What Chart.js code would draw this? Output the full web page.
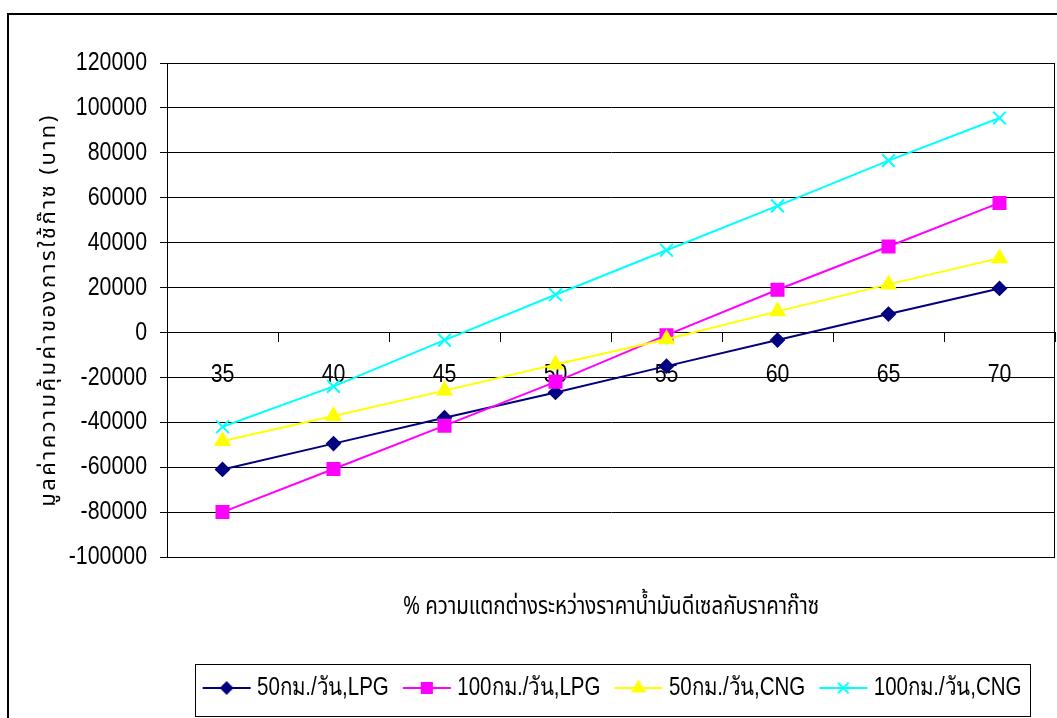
<!DOCTYPE html>
<html>
<head>
<meta charset="utf-8">
<script src="https://cdn.jsdelivr.net/npm/chart.js@4.4.1/dist/chart.umd.min.js"></script>
<style>
  html, body { margin: 0; padding: 0; background: #fff; }
  #wrap { position: relative; width: 1057px; height: 718px; }
  canvas { display: block; }
</style>
</head>
<body>
<div id="wrap"><canvas id="c" width="1057" height="718"></canvas></div>
<script>
// % price gap between diesel and gas (category axis)
const categories = ['35', '40', '45', '50', '55', '60', '65', '70'];

// Value of switching to gas (baht) per scenario
const lpg50  = [-61000, -49500, -38000, -26700, -15000, -3400, 8200, 19600];
const lpg100 = [-80000, -60800, -41500, -22000, -1200, 19000, 38300, 57700];
const cng50  = [-48300, -37200, -25900, -14300, -3000, 9400, 21400, 33100];
const cng100 = [-42000, -24000, -3400, 16800, 36600, 56400, 76500, 95500];

const seriesNames = ['50กม./วัน,LPG', '100กม./วัน,LPG', '50กม./วัน,CNG', '100กม./วัน,CNG'];
const yTickValues = [-100000, -80000, -60000, -40000, -20000, 0, 20000, 40000, 60000, 80000, 100000, 120000];

const yTitle = 'มูลค่าความคุ้มค่าของการใช้ก๊าซ (บาท)';
const xTitle = '% ความแตกต่างระหว่างราคาน้ำมันดีเซลกับราคาก๊าซ';

const SANS = "'Liberation Sans', Arial, sans-serif";
const THAI = "'Noto Sans Thai', 'Liberation Sans', sans-serif";

// Horizontal text is drawn slightly condensed (narrow Arial look).
const SX = 0.82;
const canvas = document.getElementById('c');
const c2d = canvas.getContext('2d');
const baseFillText = c2d.fillText;
const baseMeasureText = c2d.measureText;
const isUpright = g => { const t = g.getTransform(); return t.b === 0 && t.c === 0; };
c2d.fillText = function (text, x, y) {
  if (!isUpright(this)) return baseFillText.call(this, text, x, y);
  this.save();
  this.translate(x, y);
  this.scale(SX, 1);
  baseFillText.call(this, text, 0, 0);
  this.restore();
};
c2d.measureText = function (text) {
  const m = baseMeasureText.call(this, text);
  if (!isUpright(this)) return m;
  return {
    width: m.width * SX,
    actualBoundingBoxLeft: m.actualBoundingBoxLeft * SX,
    actualBoundingBoxRight: m.actualBoundingBoxRight * SX,
    actualBoundingBoxAscent: m.actualBoundingBoxAscent,
    actualBoundingBoxDescent: m.actualBoundingBoxDescent
  };
};

const styles = [
  { color: '#000080', point: 'rectRot',  radius: 6.5 },
  { color: '#FF00FF', point: 'rect',     radius: 8.5 },
  { color: '#FFFF00', point: 'triangle', radius: 8 },
  { color: '#00FFFF', point: 'crossRot', radius: 9 }
];

// small legend glyph: line segment with the series marker in the middle
function legendIcon(s) {
  const c = document.createElement('canvas');
  c.width = 60; c.height = 20;
  const g = c.getContext('2d');
  g.strokeStyle = s.color; g.fillStyle = s.color; g.lineWidth = 2;
  g.beginPath(); g.moveTo(10, 10); g.lineTo(58, 10); g.stroke();
  Chart.helpers.drawPoint(g, { pointStyle: s.point, radius: s.radius * 0.85, borderWidth: 2, rotation: 0 }, 34, 10);
  return c;
}
const icons = styles.map(legendIcon);

const seriesValues = [lpg50, lpg100, cng50, cng100];
const datasets = seriesValues.map((vals, i) => ({
  label: seriesNames[i],
  data: vals,
  borderColor: styles[i].color,
  backgroundColor: styles[i].color,
  pointBackgroundColor: styles[i].color,
  pointBorderColor: styles[i].color,
  pointStyle: styles[i].point,
  pointRadius: styles[i].radius,
  pointBorderWidth: 2,
  borderWidth: 2,
  tension: 0,
  fill: false,
  clip: false,
  order: seriesValues.length - i
}));

// outer frame plus plot border and legend box
const framePlugin = {
  id: 'frame',
  beforeDraw(chart) {
    const ctx = chart.ctx;
    ctx.save();
    ctx.fillStyle = '#fff';
    ctx.fillRect(0, 0, chart.width, chart.height);
    ctx.fillStyle = '#000';
    ctx.fillRect(7, 13, 2, chart.height - 13);
    ctx.fillRect(7, 13, chart.width - 7, 2);
    ctx.restore();
  },
  afterDraw(chart) {
    const ctx = chart.ctx;
    const a = chart.chartArea;
    ctx.save();
    ctx.strokeStyle = '#000';
    ctx.lineWidth = 1;
    ctx.strokeRect(Math.round(a.left) + 0.5, Math.round(a.top) + 0.5, Math.round(a.right - a.left) - 1, Math.round(a.bottom - a.top));
    const hb = chart.legend.legendHitBoxes;
    if (hb && hb.length) {
      const l = Math.min(...hb.map(h => h.left)) - 6;
      const r = Math.max(...hb.map(h => h.left + h.width)) + 8;
      const t = Math.round(chart.legend.top);
      ctx.strokeRect(Math.round(l) + 0.5, t + 0.5, Math.round(r - l), 52);
    }
    ctx.restore();
  }
};

new Chart(canvas, {
  type: 'line',
  data: { labels: categories, datasets },
  plugins: [framePlugin],
  options: {
    responsive: false,
    animation: false,
    devicePixelRatio: 1,
    layout: { autoPadding: false, padding: { top: 63, left: 30, right: 2, bottom: 7.5 } },
    scales: {
      x: {
        type: 'category',
        position: { y: 0 },
        offset: true,
        afterFit(scale) { scale.paddingLeft = 0; scale.paddingRight = 0; },
        grid: { offset: true, drawOnChartArea: false, drawTicks: true, tickLength: 9, color: '#000' },
        border: { display: true, color: '#000', width: 1 },
        ticks: { color: '#000', padding: 18, font: { family: SANS, size: 26 }, maxRotation: 0, autoSkip: false }
      },
      y: {
        min: -100000,
        max: 120000,
        afterBuildTicks(scale) { scale.ticks = yTickValues.map(v => ({ value: v })); },
        afterFit(scale) {
          scale.width = 137;
          if (!scale._spacedTitle) {
            const orig = scale.drawTitle.bind(scale);
            scale.drawTitle = function () {
              this.ctx.save();
              this.ctx.letterSpacing = '2.5px';
              orig();
              this.ctx.restore();
            };
            scale._spacedTitle = true;
          }
        },
        grid: { color: '#000', tickLength: 7, lineWidth: 1 },
        border: { display: true, color: '#000', width: 1 },
        ticks: { color: '#000', padding: 13, font: { family: SANS, size: 26 }, callback: v => String(v) },
        title: { display: true, text: yTitle, color: '#000', font: { family: THAI, size: 22, lineHeight: 1.2 }, padding: { top: 7, bottom: 0 } }
      }
    },
    plugins: {
      tooltip: { enabled: false },
      title: {
        display: true,
        position: 'bottom',
        fullSize: false,
        weight: 500,
        text: xTitle,
        color: '#000',
        font: { family: THAI, size: 25, weight: 'normal', lineHeight: 1.2 },
        padding: { top: 37, bottom: 39.5 }
      },
      legend: {
        display: true,
        position: 'bottom',
        fullSize: false,
        labels: {
          color: '#000',
          font: { family: SANS, size: 25, lineHeight: 1.2 },
          usePointStyle: true,
          pointStyleWidth: 44,
          padding: 12,
          sort: (a, b) => a.datasetIndex - b.datasetIndex,
          generateLabels(chart) {
            const items = Chart.defaults.plugins.legend.labels.generateLabels(chart);
            items.forEach(it => { it.pointStyle = icons[it.datasetIndex]; });
            return items;
          }
        }
      }
    }
  }
});
</script>
</body>
</html>
